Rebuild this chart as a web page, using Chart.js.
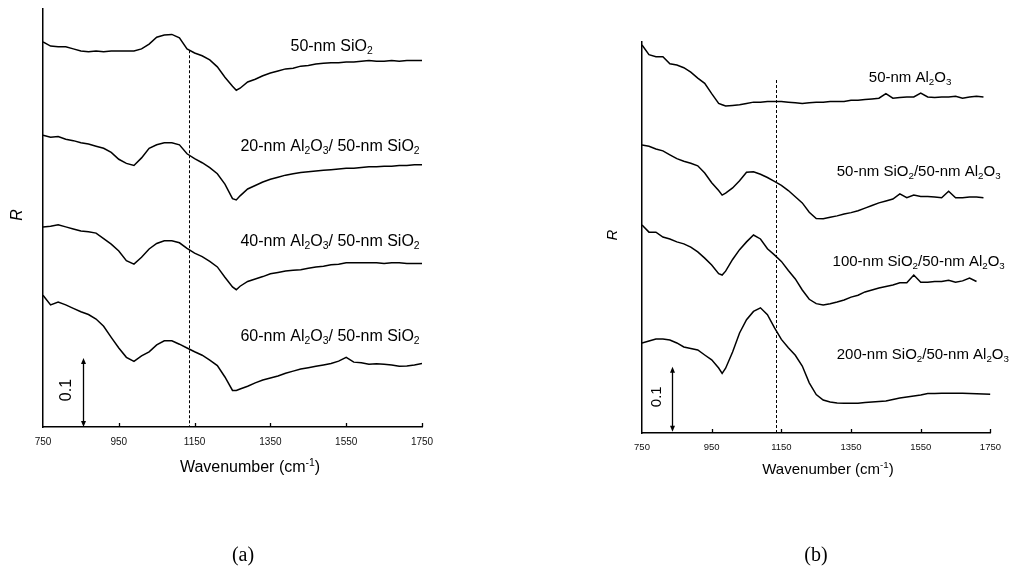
<!DOCTYPE html>
<html>
<head>
<meta charset="utf-8">
<script src="https://cdn.jsdelivr.net/npm/chart.js@4.4.1/dist/chart.umd.min.js"></script>
<style>
  body { margin: 0; background: #fff; }
  #wrap { position: relative; width: 1010px; height: 572px; }
  canvas { position: absolute; top: 0; }
</style>
</head>
<body>
<div id="wrap">
  <canvas id="chartA" width="505" height="572" style="left:0"></canvas>
  <canvas id="chartB" width="505" height="572" style="left:505px"></canvas>
</div>
<script>
// wavenumber grids (cm-1)
const wavenumbersA = [750, 770, 790, 810, 830, 850, 870, 890, 910, 930, 950, 970, 990, 1010, 1030, 1050, 1070, 1090, 1110, 1130, 1150, 1170, 1190, 1210, 1230, 1250, 1260, 1270, 1290, 1310, 1330, 1350, 1370, 1390, 1410, 1430, 1450, 1470, 1490, 1510, 1530, 1550, 1570, 1590, 1610, 1630, 1650, 1670, 1690, 1710, 1730, 1750];
const wavenumbersB = [750, 770, 790, 810, 830, 850, 870, 890, 910, 930, 950, 970, 980, 990, 1010, 1030, 1050, 1070, 1090, 1110, 1130, 1150, 1170, 1190, 1210, 1230, 1250, 1270, 1290, 1310, 1330, 1350, 1370, 1390, 1410, 1430, 1450, 1470, 1490, 1510, 1530, 1550, 1570, 1590, 1610, 1630, 1650, 1670, 1690, 1710, 1730, 1750];
const xTicks = [750, 950, 1150, 1350, 1550, 1750];

// panel (a), reflectance with vertical offsets
const sio2_50 = [0.558, 0.552, 0.551, 0.551, 0.548, 0.545, 0.544, 0.545, 0.544, 0.545, 0.545, 0.545, 0.545, 0.548, 0.555, 0.565, 0.568, 0.569, 0.564, 0.548, 0.542, 0.538, 0.532, 0.522, 0.507, 0.494, 0.488, 0.491, 0.500, 0.504, 0.509, 0.513, 0.516, 0.519, 0.520, 0.523, 0.524, 0.526, 0.527, 0.528, 0.528, 0.529, 0.529, 0.530, 0.531, 0.530, 0.530, 0.531, 0.530, 0.531, 0.531, 0.531];
const al20_sio2 = [0.423, 0.420, 0.421, 0.417, 0.415, 0.412, 0.410, 0.407, 0.404, 0.398, 0.388, 0.382, 0.379, 0.390, 0.404, 0.409, 0.412, 0.412, 0.409, 0.396, 0.389, 0.383, 0.376, 0.367, 0.352, 0.331, 0.329, 0.335, 0.345, 0.350, 0.355, 0.359, 0.362, 0.365, 0.367, 0.369, 0.370, 0.371, 0.372, 0.373, 0.374, 0.375, 0.375, 0.376, 0.377, 0.377, 0.378, 0.378, 0.379, 0.379, 0.380, 0.380];
const al40_sio2 = [0.290, 0.291, 0.293, 0.290, 0.287, 0.284, 0.283, 0.281, 0.273, 0.265, 0.255, 0.241, 0.236, 0.246, 0.258, 0.266, 0.270, 0.270, 0.267, 0.259, 0.252, 0.247, 0.240, 0.232, 0.217, 0.203, 0.199, 0.204, 0.211, 0.2145, 0.218, 0.222, 0.224, 0.226, 0.227, 0.228, 0.230, 0.232, 0.233, 0.235, 0.236, 0.238, 0.238, 0.238, 0.238, 0.238, 0.237, 0.238, 0.238, 0.237, 0.237, 0.237];
const al60_sio2 = [0.191, 0.177, 0.181, 0.177, 0.172, 0.167, 0.163, 0.1565, 0.146, 0.130, 0.1145, 0.101, 0.095, 0.103, 0.109, 0.119, 0.125, 0.125, 0.120, 0.1145, 0.109, 0.104, 0.097, 0.089, 0.0725, 0.053, 0.053, 0.055, 0.059, 0.064, 0.068, 0.071, 0.074, 0.078, 0.081, 0.084, 0.086, 0.088, 0.090, 0.092, 0.0955, 0.101, 0.094, 0.093, 0.091, 0.0915, 0.091, 0.090, 0.088, 0.0885, 0.090, 0.092];

// panel (b)
const al2o3_50 = [0.597, 0.582, 0.579, 0.579, 0.568, 0.566, 0.562, 0.555, 0.546, 0.538, 0.522, 0.507, 0.505, 0.503, 0.504, 0.505, 0.507, 0.509, 0.509, 0.510, 0.510, 0.510, 0.509, 0.508, 0.507, 0.508, 0.509, 0.509, 0.510, 0.510, 0.510, 0.512, 0.512, 0.513, 0.514, 0.515, 0.522, 0.515, 0.516, 0.517, 0.517, 0.523, 0.517, 0.516, 0.517, 0.517, 0.518, 0.515, 0.517, 0.518, 0.517, null];
const sio2_50_al = [0.443, 0.441, 0.437, 0.434, 0.428, 0.422, 0.418, 0.415, 0.411, 0.400, 0.385, 0.373, 0.366, 0.369, 0.377, 0.388, 0.401, 0.402, 0.398, 0.393, 0.387, 0.381, 0.373, 0.3635, 0.354, 0.3395, 0.330, 0.3295, 0.332, 0.334, 0.337, 0.339, 0.342, 0.346, 0.350, 0.354, 0.357, 0.360, 0.368, 0.362, 0.366, 0.364, 0.364, 0.363, 0.362, 0.372, 0.362, 0.362, 0.363, 0.363, 0.362, null];
const sio2_100_al = [0.320, 0.309, 0.309, 0.3015, 0.2985, 0.294, 0.291, 0.286, 0.2785, 0.269, 0.2585, 0.245, 0.243, 0.249, 0.267, 0.282, 0.294, 0.3046, 0.2985, 0.2835, 0.274, 0.264, 0.250, 0.237, 0.220, 0.2057, 0.199, 0.197, 0.199, 0.2015, 0.2046, 0.209, 0.212, 0.217, 0.220, 0.223, 0.2254, 0.2277, 0.231, 0.231, 0.243, 0.232, 0.232, 0.233, 0.233, 0.235, 0.232, 0.234, 0.2385, 0.233, null, null];
const sio2_200_al = [0.1385, 0.1415, 0.1446, 0.1446, 0.1431, 0.1385, 0.1323, 0.130, 0.1277, 0.120, 0.1125, 0.100, 0.0918, 0.0997, 0.1246, 0.1538, 0.1742, 0.187, 0.1926, 0.182, 0.162, 0.144, 0.131, 0.1195, 0.103, 0.0772, 0.0592, 0.0508, 0.0477, 0.0462, 0.0457, 0.0457, 0.0457, 0.0469, 0.0477, 0.0485, 0.0492, 0.0515, 0.0538, 0.0554, 0.0569, 0.0585, 0.0608, 0.0608, 0.0611, 0.0611, 0.0611, 0.0611, 0.0608, 0.0603, 0.060, 0.0595];

const SANS = '"Liberation Sans", Arial, sans-serif';

// draws text where _x is a subscript char and ^{..} a superscript group
function drawRich(ctx, str, x, y, size, align) {
  const parts = [];
  const re = /([_^])(\{[^}]*\}|.)/g;
  let last = 0, m;
  while ((m = re.exec(str))) {
    if (m.index > last) parts.push({ t: str.slice(last, m.index), k: 0 });
    parts.push({ t: m[2].replace(/[{}]/g, ''), k: m[1] === '_' ? 1 : -1 });
    last = re.lastIndex;
  }
  if (last < str.length) parts.push({ t: str.slice(last), k: 0 });
  const small = size * 0.65;
  let w = 0;
  parts.forEach(p => {
    ctx.font = (p.k ? small : size) + 'px ' + SANS;
    p.w = ctx.measureText(p.t).width;
    w += p.w;
  });
  let cx = align === 'center' ? x - w / 2 : x;
  ctx.textBaseline = 'middle';
  ctx.textAlign = 'left';
  parts.forEach(p => {
    ctx.font = (p.k ? small : size) + 'px ' + SANS;
    const dy = p.k === 1 ? size * 0.28 : p.k === -1 ? -size * 0.32 : 0;
    ctx.fillText(p.t, cx, y + dy);
    cx += p.w;
  });
}

function arrowHead(ctx, x, y, dir) {
  ctx.beginPath();
  ctx.moveTo(x, y);
  ctx.lineTo(x - 2.5, y - dir * 6);
  ctx.lineTo(x + 2.5, y - dir * 6);
  ctx.closePath();
  ctx.fill();
}

const decor = {
  id: 'decor',
  afterDatasetsDraw(chart, args, o) {
    const { ctx, chartArea: ca, scales: { x, y } } = chart;
    ctx.save();
    ctx.strokeStyle = '#000';
    ctx.fillStyle = '#000';
    // inward tick marks
    ctx.lineWidth = 1.3;
    xTicks.slice(1).forEach(v => {
      const px = Math.round(x.getPixelForValue(v)) + 0.5;
      ctx.beginPath(); ctx.moveTo(px, ca.bottom); ctx.lineTo(px, ca.bottom - 4); ctx.stroke();
    });
    // dashed marker line
    ctx.lineWidth = 1;
    ctx.setLineDash([3, 2]);
    const dx = Math.round(x.getPixelForValue(o.dash[0])) + 0.5;
    ctx.beginPath(); ctx.moveTo(dx, y.getPixelForValue(o.dash[1])); ctx.lineTo(dx, ca.bottom); ctx.stroke();
    ctx.setLineDash([]);
    // 0.1 scale bar
    const ax = Math.round(x.getPixelForValue(o.bar[0])) + 0.5;
    const y0 = y.getPixelForValue(o.bar[1]), y1 = y.getPixelForValue(o.bar[2]);
    ctx.lineWidth = 1.3;
    ctx.beginPath(); ctx.moveTo(ax, y0 - 5); ctx.lineTo(ax, y1 + 5); ctx.stroke();
    arrowHead(ctx, ax, y1, -1);
    arrowHead(ctx, ax, y0, 1);
    ctx.save();
    ctx.translate(x.getPixelForValue(o.barText[0]), y.getPixelForValue(o.barText[1]));
    ctx.rotate(-Math.PI / 2);
    drawRich(ctx, '0.1', 0, 0, o.size, 'center');
    ctx.restore();
    // curve labels
    o.labels.forEach(l => {
      drawRich(ctx, l[0], x.getPixelForValue(l[1]), y.getPixelForValue(l[2]), o.size, 'left');
    });
    // axis titles and panel letter
    drawRich(ctx, 'Wavenumber (cm^{-1})', o.xTitle[0], o.xTitle[1], o.size, 'center');
    ctx.save();
    ctx.translate(o.yTitle[0], o.yTitle[1]);
    ctx.rotate(-Math.PI / 2);
    ctx.font = 'italic ' + o.size + 'px ' + SANS;
    ctx.textAlign = 'center'; ctx.textBaseline = 'middle';
    ctx.fillText('R', 0, 0);
    ctx.restore();
    ctx.font = '20px "Liberation Serif", "Times New Roman", serif';
    ctx.textAlign = 'center'; ctx.textBaseline = 'middle';
    ctx.fillText(o.letter[0], o.letter[1], o.letter[2]);
    ctx.restore();
  }
};

function series(xs, ys) {
  return {
    data: xs.map((w, i) => ({ x: w, y: ys[i] })),
    borderColor: '#000',
    borderWidth: 1.5,
    pointRadius: 0,
    tension: 0,
    fill: false
  };
}

function makePanel(id, xs, list, yMax, pad, tickSize, decorOpts) {
  return new Chart(document.getElementById(id), {
    type: 'line',
    data: { datasets: list.map(ys => series(xs, ys)) },
    options: {
      responsive: false,
      animation: false,
      layout: { padding: pad },
      plugins: { legend: { display: false }, tooltip: { enabled: false }, decor: decorOpts },
      scales: {
        x: {
          type: 'linear', min: 750, max: 1750,
          afterBuildTicks: s => { s.ticks = xTicks.map(v => ({ value: v })); },
          afterFit: s => { s.height = 22; },
          ticks: {
            color: '#111', padding: 9, maxRotation: 0,
            font: { family: SANS, size: tickSize },
            callback: v => String(v)
          },
          grid: { display: false, drawTicks: false },
          border: { display: true, color: '#000', width: 1.5 }
        },
        y: {
          min: 0, max: yMax,
          afterFit: s => { s.width = 0; },
          ticks: { display: false },
          grid: { display: false, drawTicks: false },
          border: { display: true, color: '#000', width: 1.5 }
        }
      }
    },
    plugins: [decor]
  });
}

makePanel('chartA', wavenumbersA, [sio2_50, al20_sio2, al40_sio2, al60_sio2], 0.6058,
  { left: 43, right: 83, top: 9, bottom: 123 }, 10, {
    size: 16,
    dash: [1135, 0.546],
    bar: [856, 0, 0.1],
    barText: [813, 0.0536],
    labels: [
      ['50-nm SiO_2', 1403, 0.551],
      ['20-nm Al_2O_3/ 50-nm SiO_2', 1271, 0.406],
      ['40-nm Al_2O_3/ 50-nm SiO_2', 1271, 0.2686],
      ['60-nm Al_2O_3/ 50-nm SiO_2', 1271, 0.1309]
    ],
    xTitle: [250, 468],
    yTitle: [18, 215],
    letter: ['(a)', 243, 556]
  });

makePanel('chartB', wavenumbersB, [al2o3_50, sio2_50_al, sio2_100_al, sio2_200_al], 0.6015,
  { left: 137, right: 15, top: 42, bottom: 117 }, 9.5, {
    size: 15,
    dash: [1136, 0.543],
    bar: [837, 0.002, 0.102],
    barText: [794, 0.0558],
    labels: [
      ['50-nm Al_2O_3', 1401, 0.5457],
      ['50-nm SiO_2/50-nm Al_2O_3', 1309, 0.402],
      ['100-nm SiO_2/50-nm Al_2O_3', 1297, 0.2635],
      ['200-nm SiO_2/50-nm Al_2O_3', 1309, 0.12]
    ],
    xTitle: [323, 470],
    yTitle: [108, 235],
    letter: ['(b)', 311, 556]
  });
</script>
</body>
</html>
